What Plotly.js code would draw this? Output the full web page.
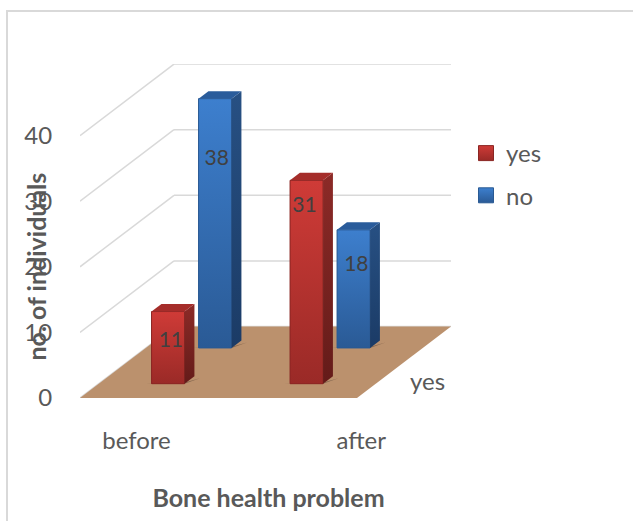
<!DOCTYPE html>
<html>
<head>
<meta charset="utf-8">
<script src="https://cdn.plot.ly/plotly-3.0.1.min.js"></script>
<style>html,body{margin:0;padding:0;background:#fff}#c{width:633px;height:521px}</style>
</head>
<body>
<div id="c"></div>
<script>
var categories = ['before', 'after'];
var seriesNames = ['yes', 'no'];
var yesValues = [11, 31];
var noValues = [38, 18];
var valueTicks = [0, 10, 20, 30, 40];
var seriesValues = [yesValues, noValues];

var W = 633, H = 521;
var M = {l: 80, r: 176, t: 64, b: 123};
var pxPerCat = 138.5, pxPerVal = 6.56;
var depthX = 94 / pxPerCat, depthY = 71.5 / pxPerVal;
var halfBar = 16.5 / pxPerCat;
var rowFront = 0.2, rowBack = 0.305, rowStep = 0.5;
var xMax = (W - M.l - M.r) / pxPerCat, yMax = (H - M.t - M.b) / pxPerVal;
var font = 'Lato, Carlito, Calibri, sans-serif';

function px(c, d) { return c + d * depthX; }
function py(v, d) { return v + d * depthY; }
function paperX(p) { return (p - M.l) / (W - M.l - M.r); }
function paperY(p) { return (H - M.b - p) / (H - M.t - M.b); }

var palette = [
  {front: ['#9a2a27', '#cf3b37'], side: ['#641b19', '#8c2a27'], top: '#a52d2a', edge: '#8a2623', mid: '#b5322f'},
  {front: ['#2a5a95', '#3d7fce'], side: ['#1b3b66', '#275083'], top: '#2a5c9b', edge: '#2a5a93', mid: '#3368ae'}
];

var shapes = [];
function seg(x0, y0, x1, y1, color, w) {
  shapes.push({type: 'line', xref: 'x', yref: 'y', x0: x0, y0: y0, x1: x1, y1: y1, layer: 'below',
    line: {color: color, width: w}});
}
function poly(pts, color, op) {
  var p = pts.map(function (q, i) { return (i ? 'L' : 'M') + q[0] + ',' + q[1]; }).join('') + 'Z';
  shapes.push({type: 'path', xref: 'x', yref: 'y', path: p, layer: 'below', fillcolor: color, opacity: op === undefined ? 1 : op, line: {width: 0}});
}
// outer frame
shapes.push({type: 'line', xref: 'paper', yref: 'paper', x0: paperX(7), x1: paperX(7), y0: paperY(11), y1: paperY(521), line: {color: '#d9d9d9', width: 2}});
shapes.push({type: 'line', xref: 'paper', yref: 'paper', x0: paperX(6), x1: paperX(633), y0: paperY(11), y1: paperY(11), line: {color: '#d9d9d9', width: 2}});
// walls
valueTicks.concat([]).forEach(function (v) {
  seg(px(0, 0), py(v, 0), px(0, 1), py(v, 1), '#d9d9d9', 1.5);
  seg(px(0, 1), py(v, 1), px(2, 1), py(v, 1), '#d9d9d9', 1.5);
});
// floor
poly([[px(0, 0), py(0, 0)], [px(2, 0), py(0, 0)], [px(2, 1), py(0, 1)], [px(0, 1), py(0, 1)]], '#bb916d');

var traces = [];
var lx = [], ly = [], lt = [];
var labelDX = [[0.02, -0.015], [0.012, 0.02]];
var labelDV = [[-4.6, -4.0], [-9.3, -5.4]];

seriesValues.forEach(function (vals, s) {
  var d0 = rowFront + s * rowStep, d1 = rowBack + s * rowStep, pal = palette[s];
  var cx = vals.map(function (v, i) { return px(i + 0.5, d0); });
  traces.push({
    type: 'bar', x: cx, y: vals, base: vals.map(function () { return py(0, d0); }),
    width: vals.map(function () { return 2 * halfBar; }), name: seriesNames[s],
    marker: {color: pal.mid, line: {width: 0}}, showlegend: false, hoverinfo: 'skip'
  });
  vals.forEach(function (v, i) {
    var c = i + 0.5, L = c - halfBar, R = c + halfBar;
    var gx0 = px(L, d0), gx1 = px(R, d0), bx0 = px(L, d1), bx1 = px(R, d1);
    // shadow on the floor
    poly([[gx0 - 0.04, py(0, d0)], [gx1, py(0, d0)], [bx1 + 0.04, py(0, d1) - 0.3], [gx1, py(0, d0) + 0.2]], '#5a4636', 0.55);
    // front
    traces.push({type: 'scatter', mode: 'lines', x: [gx0, gx1, gx1, gx0, gx0],
      y: [py(0, d0), py(0, d0), py(v, d0), py(v, d0), py(0, d0)],
      line: {width: 1, color: pal.edge}, fill: 'toself', showlegend: false, hoverinfo: 'skip',
      fillgradient: {type: 'vertical', colorscale: [[0, pal.front[0]], [1, pal.front[1]]]}});
    // side
    traces.push({type: 'scatter', mode: 'lines', x: [gx1, bx1, bx1, gx1, gx1],
      y: [py(0, d0), py(0, d1), py(v, d1), py(v, d0), py(0, d0)],
      line: {width: 0}, fill: 'toself', showlegend: false, hoverinfo: 'skip',
      fillgradient: {type: 'vertical', colorscale: [[0, pal.side[0]], [1, pal.side[1]]]}});
    // top
    traces.push({type: 'scatter', mode: 'lines', x: [gx0, gx1, bx1, bx0, gx0],
      y: [py(v, d0), py(v, d0), py(v, d1), py(v, d1), py(v, d0)],
      line: {width: 0}, fill: 'toself', fillcolor: pal.top, showlegend: false, hoverinfo: 'skip'});
    lx.push(gx0 + halfBar + labelDX[s][i]);
    ly.push(py(v, d0) + labelDV[s][i]);
    lt.push(String(v));
  });
});

// value labels
traces.push({type: 'scatter', mode: 'text', x: lx, y: ly, text: lt, textposition: 'middle center',
  textfont: {family: font, size: 21, color: '#404040'}, showlegend: false, hoverinfo: 'skip'});

// legend entries
seriesNames.forEach(function (n, s) {
  traces.push({type: 'scatter', mode: 'markers', x: [null], y: [null], name: n, legendgroup: n,
    marker: {symbol: 'square', size: 15, color: palette[s].front[1],
      gradient: {type: 'vertical', color: palette[s].front[0]},
      line: {color: palette[s].edge, width: 1}}});
});

var layout = {
  width: W, height: H, margin: M, paper_bgcolor: '#ffffff', plot_bgcolor: 'rgba(0,0,0,0)',
  font: {family: font, color: '#595959', size: 24},
  barmode: 'overlay', shapes: shapes,
  xaxis: {range: [0, xMax], tickmode: 'array', tickvals: [0.408, 2.03], ticktext: categories,
    showgrid: false, zeroline: false, showline: false, ticks: 'outside', ticklen: 21, tickcolor: 'rgba(0,0,0,0)',
    tickfont: {family: font, size: 24, color: '#595959'},
    title: {text: 'Bone health problem', standoff: 36, font: {family: font, size: 25, color: '#595959', weight: 'bold'}}},
  yaxis: {range: [0, yMax], tickmode: 'array', tickvals: valueTicks, ticktext: valueTicks.map(String),
    showgrid: false, zeroline: false, showline: false, ticks: 'outside', ticklen: 22, tickcolor: 'rgba(0,0,0,0)',
    tickfont: {family: font, size: 24, color: '#595959'}},
  legend: {x: paperX(466), y: paperY(131), xanchor: 'left', yanchor: 'top', tracegroupgap: 8,
    font: {family: font, size: 24, color: '#595959'}, bgcolor: 'rgba(0,0,0,0)', itemwidth: 30},
  annotations: [
    {xref: 'paper', yref: 'paper', x: paperX(35), y: paperY(266.5), text: '<b>no. of individuals</b>', textangle: -90,
      showarrow: false, xanchor: 'center', yanchor: 'middle', font: {family: font, size: 25, color: '#595959'}},
    {xref: 'x', yref: 'y', x: (427 - M.l) / pxPerCat, y: (H - M.b - 380) / pxPerVal, text: seriesNames[0],
      showarrow: false, xanchor: 'center', yanchor: 'middle', font: {family: font, size: 24, color: '#595959'}}
  ],
  showlegend: true
};
Plotly.newPlot('c', traces, layout, {displayModeBar: false, staticPlot: true});
</script>
</body>
</html>
